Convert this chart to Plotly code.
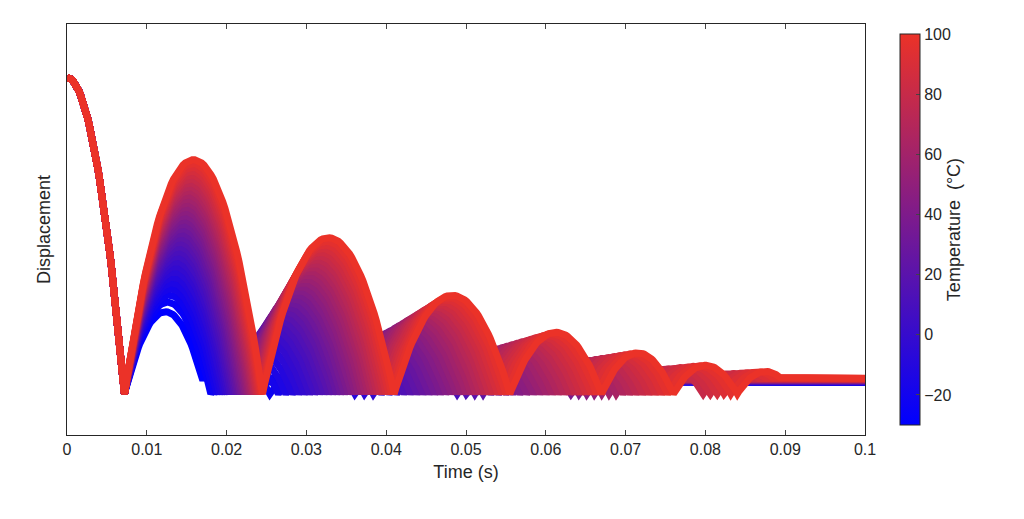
import numpy as np
import plotly.graph_objects as go

temps = list(range(-30, 101, 4))
start_height = 0.87
ground = 0.10
rest_cold = 0.128
rest_hot = 0.138
hot_bounces = [0.0072, 0.0245, 0.041, 0.0555, 0.067, 0.076, 0.084, 0.091, 0.097]
hot_peaks = [0.67, 0.48, 0.34, 0.25, 0.20, 0.17, 0.155, 0.145]
cold_peaks = [0.30, 0.13, 0.12, 0.11, 0.11, 0.11, 0.11, 0.11]
xticks = [0, 0.01, 0.02, 0.03, 0.04, 0.05, 0.06, 0.07, 0.08, 0.09, 0.1]
cb_ticks = [-20, 0, 20, 40, 60, 80, 100]

def color(f):
    r = int(0 + 235 * f); g = int(0 + 50 * f); b = int(255 - 215 * f)
    return f"rgb({r},{g},{b})"

fig = go.Figure()
for T in temps:
    f = (T - temps[0]) / (temps[-1] - temps[0])
    w = f ** 0.8
    rest = rest_cold + (rest_hot - rest_cold) * f
    t0 = hot_bounces[0]
    ts = np.linspace(0, t0, 40)
    xs = list(ts); ys = list(ground + (start_height - ground) * (1 - (ts / t0) ** 2))
    t = t0
    for i in range(len(hot_peaks)):
        p = cold_peaks[i] + (hot_peaks[i] - cold_peaks[i]) * w
        dur_hot = hot_bounces[i + 1] - hot_bounces[i]
        dur = dur_hot * np.sqrt(max(p - ground, 0) / (hot_peaks[i] - ground))
        if p - rest < 0.012:
            break
        s = np.linspace(0, 1, 60)
        xs += list(t + s * dur)
        ys += list(ground + (p - ground) * 4 * s * (1 - s))
        t += dur
    while ys[-1] < rest:
        xs.pop(); ys.pop()
    xs += [0.1]; ys += [rest]
    fig.add_trace(go.Scatter(x=xs, y=ys, mode="lines", line=dict(color=color(f), width=7),
                             showlegend=False, hoverinfo="skip"))

fig.add_trace(go.Scatter(x=[None], y=[None], mode="markers", showlegend=False,
    marker=dict(color=[-30, 100], cmin=-30, cmax=100,
        colorscale=[[0, color(0)], [0.5, color(0.5)], [1, color(1)]], showscale=True,
        colorbar=dict(x=1.031, xanchor="left", y=0, yanchor="bottom", len=1, lenmode="fraction",
            thickness=20, outlinewidth=1, outlinecolor="#262626", tickvals=cb_ticks, ticks="inside",
            ticklen=4, tickfont=dict(size=16, color="#262626"),
            title=dict(text="Temperature  (°C)", side="right", font=dict(size=18, color="#262626"))))))

fig.update_layout(width=1024, height=519, margin=dict(l=59, r=167, t=16, b=92, autoexpand=False),
    plot_bgcolor="white", paper_bgcolor="white",
    font=dict(family="Liberation Sans, Arial", color="#262626"))
fig.update_xaxes(range=[0, 0.1], tickvals=xticks, ticktext=[str(v) for v in xticks],
    ticks="inside", ticklen=5, showline=True, linecolor="#262626", mirror="ticks",
    showgrid=False, zeroline=False, tickfont=dict(size=16), automargin=False,
    title=dict(text="Time (s)", font=dict(size=18), standoff=8))
fig.update_yaxes(range=[0, 1], showticklabels=False, ticks="", showline=True, linecolor="#262626",
    mirror=True, showgrid=False, zeroline=False, automargin=False,
    title=dict(text="Displacement", font=dict(size=18), standoff=10))
fig.write_html("out.html")
